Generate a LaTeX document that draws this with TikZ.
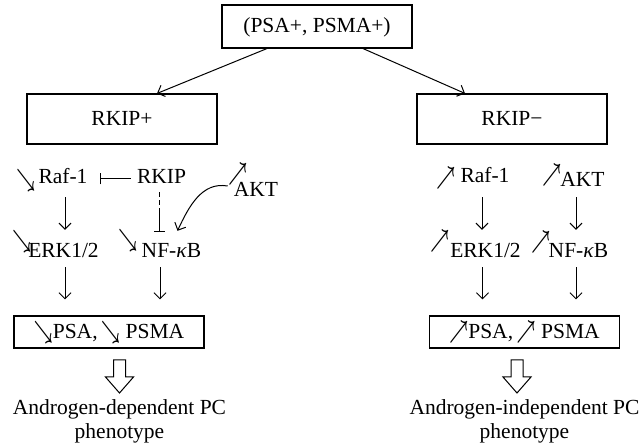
\documentclass[tikz,border=0pt]{standalone}
\usepackage{fontspec}
\usepackage{graphicx}
\setmainfont{Liberation Serif}
\usetikzlibrary{arrows.meta,calc}
\newcommand{\fsz}{\fontsize{21.5}{24}\selectfont}
\newcommand{\gsz}{\fontsize{20}{22}\selectfont}
\newcommand{\gdn}{\scalebox{0.8}[1.2]{\gsz$\boldsymbol{\searrow}$}}
\newcommand{\gup}{\scalebox{0.8}[1.2]{\gsz$\boldsymbol{\nearrow}$}}
\usepackage{amsmath}
\begin{document}
\begin{tikzpicture}[x=1pt,y=-1pt,
  box/.style={draw, line width=1.1pt, minimum width=190pt, inner sep=0pt,
    font=\fsz, text height=13pt, text depth=0pt},
  lbl/.style={anchor=base, inner sep=0pt, font=\fsz, text height=14pt, text depth=4pt},
  glyph/.style={inner sep=0pt},
  foot/.style={anchor=north, inner sep=0pt, font=\fsz, align=center},
  arr/.style={line width=1pt, -{Straight Barb[length=6pt,width=12pt]}},
  inh/.style={line width=1pt, -{Bar[width=11pt,line width=1pt]}},
  hollow/.style={line width=1pt, line join=miter}
]
\useasboundingbox (0,0) rectangle (643,446);

% boxes
\node[box, minimum height=43pt] (top) at (317,26.5) {(PSA+, PSMA+)};
\node[box, minimum height=50pt] (rkp) at (122,119) {RKIP+};
\node[box, minimum height=50pt] (rkm) at (512,119) {RKIP−};
\node[box, minimum height=32pt] (psaL) at (109,332) {\gdn PSA,\,\gdn\ PSMA};
\node[box, minimum height=32pt] (psaR) at (524.5,332) {\gup PSA,\,\gup\ PSMA};

% branch arrows
\draw[arr] ([xshift=-50pt]top.south) -- ([xshift=35pt]rkp.north);
\draw[arr] ([xshift=46pt]top.south) -- ([xshift=-47pt]rkm.north);

% left labels
\node[lbl] (rafL) at (63,184) {Raf-1};
\node[lbl] (rkip) at (161.5,184) {RKIP};
\node[lbl] (aktL) at (256,197) {AKT};
\node[lbl] (erkL) at (63.5,258) {ERK1/2};
\node[lbl] (nfL) at (171.5,258) {NF-\textit{κ}B};
\node[glyph] (g1) at (26,180) {\gdn};
\node[glyph] (g2) at (238,174) {\gup};
\node[glyph] (g3) at (22,241) {\gdn};
\node[glyph] (g4) at (128,240) {\gdn};

% right labels
\node[lbl] (rafR) at (485,183) {Raf-1};
\node[lbl] (aktR) at (582.5,187) {AKT};
\node[lbl] (erkR) at (485.5,258) {ERK1/2};
\node[lbl] (nfR) at (578.5,258) {NF-\textit{κ}B};
\node[glyph] (g5) at (446,178) {\gup};
\node[glyph] (g6) at (552,175) {\gup};
\node[glyph] (g7) at (440,241) {\gup};
\node[glyph] (g8) at (541,242) {\gup};

% left connectors
\draw[inh, shorten <=6pt, shorten >=12pt] (rkip.west) -- (rkip.west -| rafL.east);
\draw[arr, shorten <=9pt, shorten >=14pt] ([xshift=2pt]rafL.south) -- ([xshift=2pt]rafL.south |- erkL.north);
\draw[inh, dash pattern=on 5pt off 3pt on 5pt off 3pt on 30pt, shorten <=4pt, shorten >=12pt]
  ([xshift=-2.5pt]rkip.south) -- ([xshift=-2.5pt]rkip.south |- nfL.north);
\draw[arr] ($(aktL.west)+(-6,-6)$) to[out=170, in=65] ($(nfL.north)+(6,-13)$);
\draw[arr, shorten <=5pt, shorten >=16pt] ([xshift=1.5pt]erkL.south) -- ([xshift=1.5pt]erkL.south |- psaL.north);
\draw[arr, shorten <=5pt, shorten >=16pt] ([xshift=-1.5pt]rkip.south |- nfL.south) -- ([xshift=-1.5pt]rkip.south |- psaL.north);

% right connectors
\draw[arr, shorten <=10pt, shorten >=14pt] ([xshift=-3pt]rafR.south) -- ([xshift=-3pt]rafR.south |- erkR.north);
\draw[arr, shorten <=6pt, shorten >=14pt] ([xshift=-2.5pt]nfR.north |- aktR.south) -- ([xshift=-2.5pt]nfR.north);
\draw[arr, shorten <=5pt, shorten >=16pt] ([xshift=-3pt]erkR.south) -- ([xshift=-3pt]erkR.south |- psaR.north);
\draw[arr, shorten <=5pt, shorten >=16pt] ([xshift=-2.5pt]nfR.south) -- ([xshift=-2.5pt]nfR.south |- psaR.north);

% outcome
\coordinate (hl) at (119.5,360);
\coordinate (hr) at (517,360);
\draw[hollow] (hl) ++(-6,0) -- ++(12,0) -- ++(0,17) -- ++(8,0) -- ++(-14,16) -- ++(-14,-16) -- ++(8,0) -- cycle;
\draw[hollow] (hr) ++(-6,0) -- ++(12,0) -- ++(0,17) -- ++(8,0) -- ++(-14,16) -- ++(-14,-16) -- ++(8,0) -- cycle;
\node[foot] (outL) at (119.5,399) {Androgen-dependent PC\\phenotype};
\node[foot] (outR) at (524.5,399) {Androgen-independent PC\\phenotype};
\end{tikzpicture}
\end{document}
